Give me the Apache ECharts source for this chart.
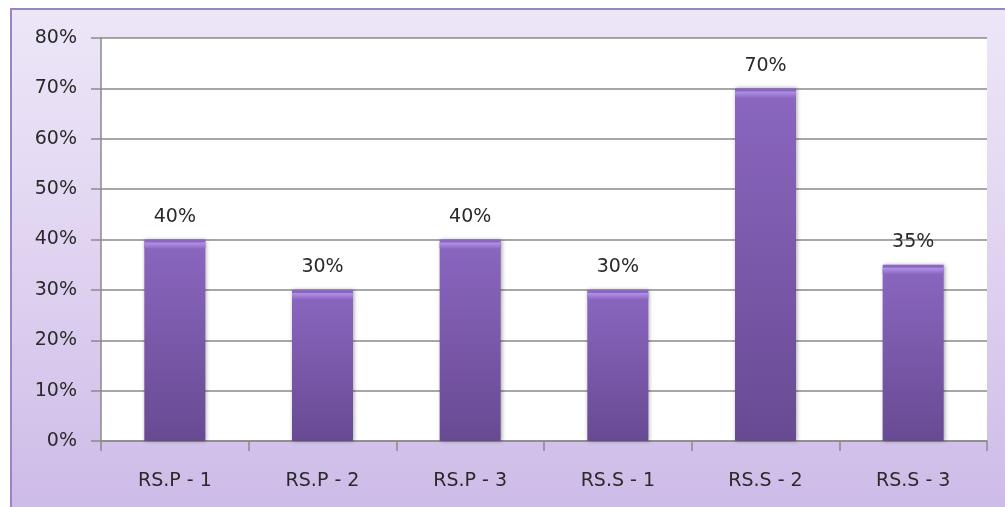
<!DOCTYPE html>
<html>
<head>
<meta charset="utf-8">
<script src="https://cdn.jsdelivr.net/npm/echarts@6/dist/echarts.min.js"></script>
<style>
html,body{margin:0;padding:0;background:#fff;}
#chart{width:1005px;height:507px;}
</style>
</head>
<body>
<div id="chart"></div>
<script>
const categories = ['RS.P - 1', 'RS.P - 2', 'RS.P - 3', 'RS.S - 1', 'RS.S - 2', 'RS.S - 3'];
const values = [40, 30, 40, 30, 70, 35];
const yTicks = [0, 10, 20, 30, 40, 50, 60, 70, 80];

const chart = echarts.init(document.getElementById('chart'), null, {renderer: 'canvas'});
const font = 'DejaVu Sans';
chart.setOption({
  animation: false,
  graphic: [{
    type: 'rect', z: -10,
    shape: {x: 11, y: 9, width: 1100, height: 600},
    style: {
      fill: {type: 'linear', x: 0, y: 0, x2: 0, y2: 1, colorStops: [
        {offset: 0, color: '#ede6f7'}, {offset: 0.3, color: '#e4d9f3'}, {offset: 1, color: '#c6b2e4'}]},
      stroke: '#9a84c4', lineWidth: 2
    }
  }],
  grid: {left: 101, top: 38, width: 886, height: 403, show: true, backgroundColor: '#ffffff', borderWidth: 0},
  xAxis: {
    type: 'category', data: categories,
    axisLine: {lineStyle: {color: '#8a8a8a', width: 1.5}},
    axisTick: {show: true, length: 10, alignWithLabel: false, lineStyle: {color: '#8a8a8a', width: 1.5}},
    axisLabel: {color: '#2a2a2a', fontFamily: font, fontSize: 19, margin: 31}
  },
  yAxis: {
    type: 'value', min: yTicks[0], max: yTicks[yTicks.length - 1], interval: 10,
    axisLine: {show: true, lineStyle: {color: '#8a8a8a', width: 1.5}},
    axisTick: {show: true, length: 10, lineStyle: {color: '#8a8a8a', width: 1.5}},
    splitLine: {lineStyle: {color: '#8a8a8a', width: 1.5}},
    axisLabel: {color: '#2a2a2a', fontFamily: font, fontSize: 19, margin: 24, formatter: v => v + '%'}
  },
  series: [{
    type: 'bar', data: values, barWidth: 61,
    itemStyle: {
      color: {type: 'linear', x: 0, y: 0, x2: 0, y2: 1, colorStops: [
        {offset: 0, color: '#8b67c0'}, {offset: 1, color: '#684a93'}]},
      shadowBlur: 4, shadowColor: 'rgba(0,0,0,0.35)', shadowOffsetX: 1
    },
    label: {show: true, position: 'top', distance: 13, color: '#2a2a2a', fontFamily: font, fontSize: 19, formatter: p => p.value + '%'}
  }, {
    type: 'pictorialBar', data: values, symbol: 'rect', symbolSize: [61, 6], symbolPosition: 'end', symbolOffset: [0, '50%'],
    z: 3,
    itemStyle: {color: {type: 'linear', x: 0, y: 0, x2: 0, y2: 1, colorStops: [
        {offset: 0, color: '#b394e8'}, {offset: 1, color: '#8f6cc6'}]}},
    silent: true
  }]
});
</script>
</body>
</html>
